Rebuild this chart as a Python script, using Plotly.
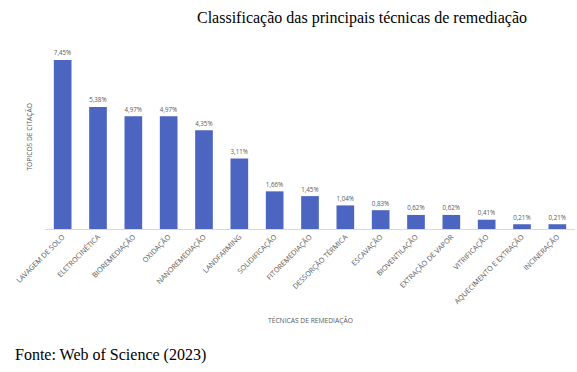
import plotly.graph_objects as go

categories = ["LAVAGEM DE SOLO", "ELETROCINÉTICA", "BIOREMEDIAÇÃO", "OXIDAÇÃO",
              "NANOREMEDIAÇÃO", "LANDFARMING", "SOLIDIFICAÇÃO", "FITOREMEDIAÇÃO",
              "DESSORÇÃO TÉRMICA", "ESCAVAÇÃO", "BIOVENTILAÇÃO", "EXTRAÇÃO DE VAPOR",
              "VITRIFICAÇÃO", "AQUECIMENTO E EXTRAÇÃO", "INCINERAÇÃO"]
values = [7.45, 5.38, 4.97, 4.97, 4.35, 3.11, 1.66, 1.45, 1.04, 0.83, 0.62, 0.62, 0.41, 0.21, 0.21]
labels = [f"{v:.2f}%".replace(".", ",") for v in values]

W, H = 577, 372
L, R, T, B = 45.4, 2.4, 50, 143
plot_w = W - L - R
plot_h = H - T - B
px_per_unit = 22.68
ymax = plot_h / px_per_unit


def px(xp):
    return (xp - L) / plot_w


def py(yp):
    return (H - B - yp) / plot_h


fig = go.Figure(go.Bar(
    x=categories, y=values, text=labels, textposition="outside",
    textfont=dict(family="Open Sans", size=8, color="#595959"),
    marker=dict(color="#4c65c1", line=dict(width=0)),
    cliponaxis=False, hoverinfo="skip",
))

fig.update_layout(
    width=W, height=H,
    margin=dict(l=L, r=R, t=T, b=B, autoexpand=False),
    paper_bgcolor="white", plot_bgcolor="white",
    bargap=0.5, showlegend=False,
    xaxis=dict(tickangle=-45, tickfont=dict(family="Open Sans", size=7.2, color="#595959"),
               showline=True, linecolor="#d9d9d9", linewidth=1, showgrid=False,
               ticks="", range=[-0.5, len(categories) - 0.5], automargin=False),
    yaxis=dict(range=[0, ymax], showticklabels=False, showgrid=False, zeroline=False,
               showline=False, ticks="", automargin=False),
    annotations=[
        dict(text="Classificação das principais técnicas de remediação", xref="paper", yref="paper",
             x=px(362), y=py(18), xanchor="center", yanchor="middle", showarrow=False,
             font=dict(family="Liberation Serif", size=16, color="black")),
        dict(text="Fonte: Web of Science (2023)", xref="paper", yref="paper",
             x=px(13), y=py(355), xanchor="left", yanchor="middle", showarrow=False,
             font=dict(family="Liberation Serif", size=16, color="black")),
        dict(text="TÓPICOS DE CITAÇÃO", xref="paper", yref="paper",
             x=px(29), y=py(137), xanchor="center", yanchor="middle", textangle=-90, showarrow=False,
             font=dict(family="Open Sans", size=6.7, color="#595959")),
        dict(text="TÉCNICAS DE REMEDIAÇÃO", xref="paper", yref="paper",
             x=px(310), y=py(320), xanchor="center", yanchor="middle", showarrow=False,
             font=dict(family="Open Sans", size=6.7, color="#595959")),
    ],
)

fig.write_html("out.html", config={"displayModeBar": False},
               post_script="document.body.style.margin='0';")
